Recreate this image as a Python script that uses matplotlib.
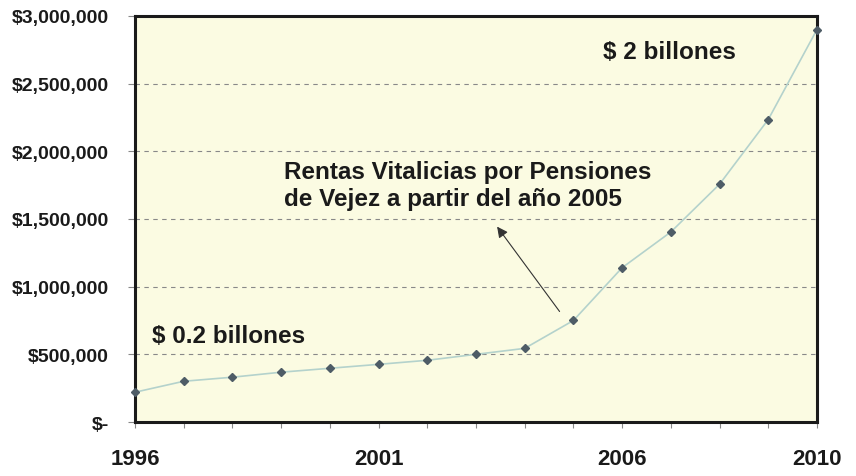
import matplotlib
matplotlib.use("Agg")
import matplotlib.pyplot as plt
from matplotlib.ticker import FuncFormatter

# Rentas vitalicias por pensiones de vejez (pesos, millones)
years = [1996, 1997, 1998, 1999, 2000, 2001, 2002, 2003, 2004, 2005,
         2006, 2007, 2008, 2009, 2010]
values = [220000, 301000, 331000, 368000, 397000, 426000, 456000, 500000,
          544000, 750000, 1140000, 1404000, 1757000, 2235000, 2900000]
labeled_years = [1996, 2001, 2006, 2010]
y_ticks = [0, 500000, 1000000, 1500000, 2000000, 2500000, 3000000]

plt.rcParams["font.family"] = ["Liberation Sans", "DejaVu Sans"]

fig = plt.figure(figsize=(8.56, 4.77), dpi=100)
ax = fig.add_axes([0.1577, 0.1132, 0.7967, 0.8512])
ax.set_facecolor("#fbfbe2")

ax.plot(years, values, color="#b4d2cc", lw=1.2, zorder=3)
ax.plot(years, values, ls="none", marker="D", ms=4.2, color="#4e5c66",
        zorder=4, clip_on=False)

ax.set_xlim(1996, 2010)
ax.set_ylim(0, 3000000)
ax.set_yticks(y_ticks)
ax.yaxis.set_major_formatter(
    FuncFormatter(lambda v, p: "$-" if v == 0 else "${:,.0f}".format(v)))
ax.set_xticks(years)
ax.set_xticklabels([str(y) if y in labeled_years else "" for y in years])

ax.grid(axis="y", ls=(0, (4, 4)), color="#888888", lw=0.8)
ax.set_axisbelow(True)
for s in ax.spines.values():
    s.set_linewidth(2.2)
    s.set_color("#1a1a1a")

ax.tick_params(axis="y", length=5, width=0.8, color="#888888", pad=14,
               labelsize=14)
ax.tick_params(axis="x", length=4, width=0.8, color="#888888", pad=15,
               labelsize=16)
for lbl in ax.get_xticklabels() + ax.get_yticklabels():
    lbl.set_fontweight("bold")
    lbl.set_color("#1a1a1a")

ax.text(1996.35, 640000, "$ 0.2 billones", fontsize=17.5, fontweight="bold",
        color="#1a1a1a", va="center")
ax.text(2005.6, 2740000, "$ 2 billones", fontsize=17.5, fontweight="bold",
        color="#1a1a1a", va="center")
ax.text(1999.05, 1750000, "Rentas Vitalicias por Pensiones\nde Vejez a partir del año 2005",
        fontsize=17.5, fontweight="bold", color="#1a1a1a", va="center",
        linespacing=1.25)
ax.annotate("", xy=(2003.4, 1460000), xytext=(2004.75, 800000),
            arrowprops=dict(arrowstyle="-|>", color="#333333", lw=0.8,
                            mutation_scale=16))

fig.savefig("out.png", dpi=100)
